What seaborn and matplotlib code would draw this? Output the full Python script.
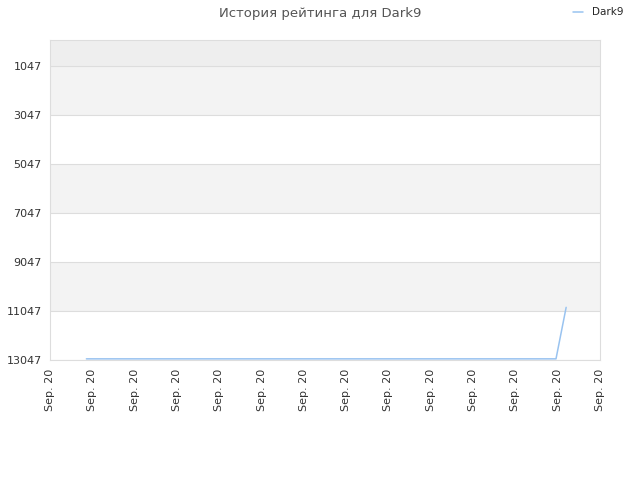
import numpy as np
import pandas as pd
import matplotlib
matplotlib.use("Agg")
import matplotlib.pyplot as plt
import seaborn as sns

sns.set_style("white")
plt.rcParams['font.family'] = ['DejaVu Sans']

# rating history (x = position in tick units, y = place in rating)
x_pos = [0.86, 11.96, 12.2]
rating = [13000, 13000, 10900]
player = "Dark9"

tick_values = [1047, 3047, 5047, 7047, 9047, 11047, 13047]
x_labels = ["Sep. 20"] * 14

df = pd.DataFrame({"x": x_pos, "rating": rating, "player": player})

fig = plt.figure(figsize=(6.4, 4.8), dpi=100)
ax = fig.add_axes([50 / 640, 1 - 360 / 480, 550 / 640, 320 / 480])

# alternating bands
ax.axhspan(0, 1047, color="#eeeeee", zorder=0, lw=0)
for i, lo in enumerate(tick_values[:-1]):
    if i % 2 == 0:
        ax.axhspan(lo, lo + 2000, color="#f3f3f3", zorder=0, lw=0)

sns.lineplot(data=df, x="x", y="rating", hue="player", ax=ax,
             palette=["#99c3f0"], lw=1.1, zorder=3)

ax.set_ylim(13047, 0)
ax.set_xlim(0, 13)
ax.set_yticks(tick_values)
ax.set_yticklabels([str(v) for v in tick_values], fontsize=8, color="#333333")
ax.set_xticks(np.arange(14))
ax.set_xticklabels(x_labels, rotation=90, fontsize=8, color="#333333")
ax.yaxis.grid(True, color="#dddddd", lw=0.8)
ax.set_axisbelow(True)
ax.tick_params(length=0, pad=6)
for s in ax.spines.values():
    s.set_color("#dddddd")
ax.set_xlabel("")
ax.set_ylabel("")

ax.legend_.remove()
h, l = ax.get_legend_handles_labels()
fig.legend(h, l, loc="upper right", bbox_to_anchor=(0.985, 1.0), frameon=False,
           fontsize=7.5, handlelength=1.0, borderaxespad=0.3)

fig.suptitle("История рейтинга для Dark9", x=0.5, y=0.985, fontsize=9.5,
             color="#555555")

fig.savefig("out.png", dpi=100)
